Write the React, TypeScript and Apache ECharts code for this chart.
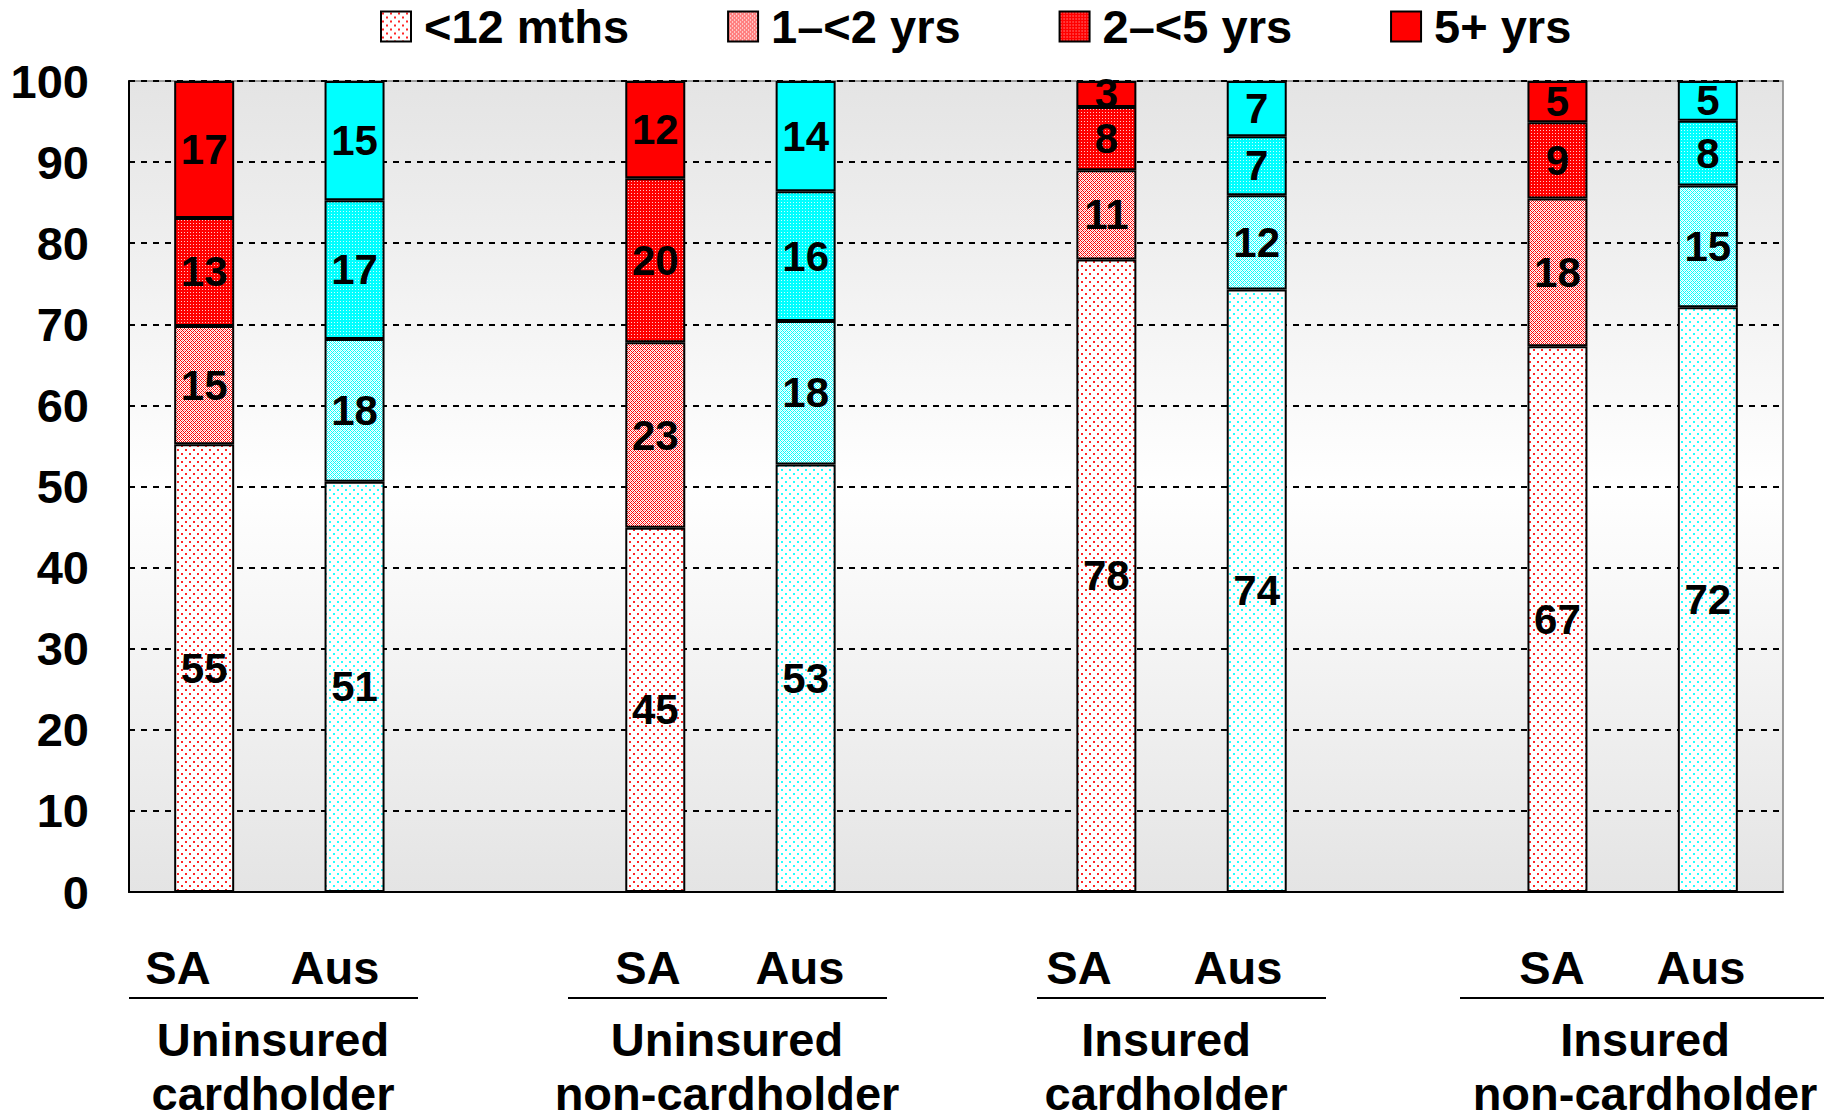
import React, { useEffect, useRef } from "react";
import * as echarts from "echarts";

// ---- data ----
const seriesNames = ["<12 mths", "1\u2013<2 yrs", "2\u2013<5 yrs", "5+ yrs"];
const groupLine1 = ["Uninsured", "Uninsured", "Insured", "Insured"];
const groupLine2 = ["cardholder", "non-cardholder", "cardholder", "non-cardholder"];
const regions = ["SA", "Aus"];
// order: SA1, Aus1, SA2, Aus2, SA3, Aus3, SA4, Aus4
const under12 = [55.2, 50.6, 44.9, 52.7, 78.0, 74.3, 67.3, 72.1];
const oneToTwo = [14.6, 17.6, 22.9, 17.7, 11.0, 11.6, 18.2, 15.0];
const twoToFive = [13.3, 17.1, 20.2, 16.0, 7.8, 7.3, 9.4, 8.0];
const fivePlus = [16.9, 14.7, 12.0, 13.6, 3.2, 6.8, 5.1, 4.9];
const yTicks = { min: 0, max: 100, interval: 10 };

const FONT = '"Liberation Sans", Arial, Helvetica, sans-serif';

function makePattern(w: number, h: number, draw: (ctx: CanvasRenderingContext2D) => void) {
  const c = document.createElement("canvas");
  c.width = w;
  c.height = h;
  const ctx = c.getContext("2d")!;
  draw(ctx);
  return { image: c, repeat: "repeat", imageWidth: w, imageHeight: h } as any;
}

function patterns(col: string, light: string) {
  const dots = makePattern(8, 8, (ctx) => {
    ctx.fillStyle = "#ffffff";
    ctx.fillRect(0, 0, 8, 8);
    ctx.fillStyle = col;
    ctx.globalAlpha = 0.85;
    ctx.fillRect(1, 1, 2, 2);
    ctx.fillRect(5, 5, 2, 2);
  });
  const lattice = makePattern(4, 4, (ctx) => {
    ctx.fillStyle = "#ffffff";
    ctx.fillRect(0, 0, 4, 4);
    ctx.fillStyle = col;
    const px = [[0, 0], [1, 1], [2, 2], [3, 3], [1, 3], [3, 1]];
    px.forEach(([x, y]) => ctx.fillRect(x, y, 1, 1));
    ctx.globalAlpha = 0.4;
    ctx.fillRect(0, 2, 1, 1);
    ctx.fillRect(2, 0, 1, 1);
  });
  const dense = makePattern(3, 3, (ctx) => {
    ctx.fillStyle = col;
    ctx.fillRect(0, 0, 3, 3);
    ctx.fillStyle = light;
    ctx.fillRect(1, 1, 1, 1);
  });
  return [dots, lattice, dense, col];
}

export default function App() {
  const ref = useRef<HTMLDivElement>(null);

  useEffect(() => {
    document.body.style.margin = "0";
    const chart = echarts.init(ref.current!, null, { renderer: "svg" });
    const red = patterns("#ff0000", "#ffc8c8");
    const cyan = patterns("#00ffff", "#c8ffff");
    const valueSets = [under12, oneToTwo, twoToFive, fivePlus];

    // 11 slots: SA, Aus, gap per group
    const categories: string[] = [];
    groupLine1.forEach((_, gi) => {
      categories.push(regions[0], regions[1]);
      if (gi < groupLine1.length - 1) categories.push("");
    });

    const series = seriesNames.map((name, si) => {
      const data: any[] = [];
      valueSets[si].forEach((v, i) => {
        const isAus = i % 2 === 1;
        data.push(isAus ? { value: v, itemStyle: { color: cyan[si] } } : { value: v });
        if (isAus && i < valueSets[si].length - 1) data.push(null);
      });
      return {
        name,
        type: "bar",
        stack: "total",
        barWidth: 60,
        data,
        itemStyle: { color: red[si], borderColor: "#000", borderWidth: 2 },
        label: {
          show: true,
          position: "inside",
          fontSize: 42,
          fontWeight: "bold",
          fontFamily: FONT,
          color: "#000",
          formatter: (p: any) => String(Math.round(p.value)),
        },
      };
    });

    const txt = (text: string, x: number, y: number) => ({
      type: "text",
      x,
      y,
      style: {
        text,
        fill: "#000",
        font: `bold 47px ${FONT}`,
        align: "center",
        verticalAlign: "middle",
      },
    });
    const regionX = [178, 335, 648, 800, 1079, 1238, 1552, 1701];
    const groupX = [273, 727, 1166, 1645];
    const underline = [
      [129, 418],
      [568, 887],
      [1037, 1326],
      [1460, 1824],
    ];
    const graphics: any[] = [];
    regionX.forEach((x, i) => graphics.push(txt(regions[i % 2], x, 967)));
    groupX.forEach((x, i) => {
      graphics.push(txt(groupLine1[i], x, 1039));
      graphics.push(txt(groupLine2[i], x, 1093));
      graphics.push({
        type: "line",
        shape: { x1: underline[i][0], y1: 998, x2: underline[i][1], y2: 998 },
        style: { stroke: "#000", lineWidth: 2 },
      });
    });

    chart.setOption({
      animation: false,
      backgroundColor: "#ffffff",
      textStyle: { fontFamily: FONT },
      legend: {
        data: seriesNames,
        icon: "rect",
        left: 375,
        top: -2,
        itemWidth: 30,
        itemHeight: 30,
        itemGap: 98,
        textStyle: {
          fontSize: 47,
          fontWeight: "bold",
          color: "#000",
          fontFamily: FONT,
          padding: [0, 0, 0, 8],
        },
      },
      grid: {
        left: 129,
        top: 81,
        right: 56,
        bottom: 227,
        show: true,
        borderColor: "#808080",
        borderWidth: 1.5,
        backgroundColor: new echarts.graphic.LinearGradient(0, 0, 0, 1, [
          { offset: 0, color: "#e4e4e4" },
          { offset: 0.5, color: "#ffffff" },
          { offset: 1, color: "#e4e4e4" },
        ]),
      },
      xAxis: {
        type: "category",
        data: categories,
        axisLabel: { show: false },
        axisTick: { show: false },
        axisLine: { lineStyle: { color: "#000", width: 2 } },
      },
      yAxis: {
        type: "value",
        min: yTicks.min,
        max: yTicks.max,
        interval: yTicks.interval,
        axisLine: { show: true, lineStyle: { color: "#000", width: 2 } },
        axisTick: { show: false },
        axisLabel: {
          fontSize: 47,
          fontWeight: "bold",
          color: "#000",
          fontFamily: FONT,
          margin: 40,
        },
        splitLine: { lineStyle: { color: "#000", width: 2, type: [6, 6] } },
      },
      series,
      graphic: graphics,
    });
    return () => chart.dispose();
  }, []);

  return (
    <div
      ref={ref}
      style={{ position: "absolute", left: 0, top: 0, width: 1839, height: 1119, background: "#fff" }}
    />
  );
}
